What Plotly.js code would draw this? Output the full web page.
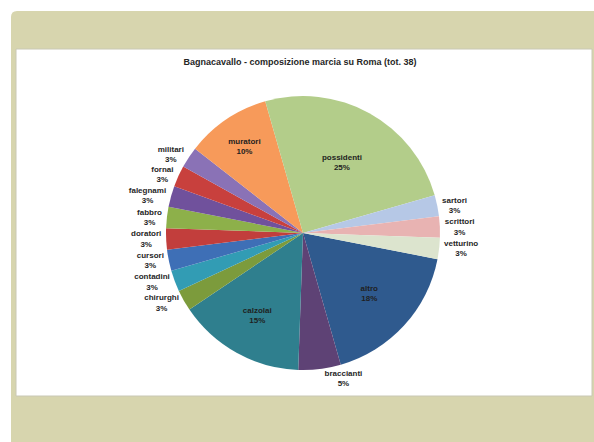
<!DOCTYPE html>
<html>
<head>
<meta charset="utf-8">
<script src="https://cdn.plot.ly/plotly-3.0.1.min.js"></script>
<style>html,body{margin:0;padding:0;background:#fff;}#chart{width:594px;height:442px;}</style>
</head>
<body>
<div id="chart"></div>
<script>
var chartTitle = 'Bagnacavallo - composizione marcia su Roma (tot. 38)';
var categories = ['altro','braccianti','calzolai','chirurghi','contadini','cursori','doratori','fabbro','falegnami','fornai','militari','muratori','possidenti','sartori','scrittori','vetturino'];
var values = [7, 2, 6, 1, 1, 1, 1, 1, 1, 1, 1, 4, 10, 1, 1, 1];
var sliceColors = ['#2F5A8E','#5E4275','#2F7F8E','#7C9B3C','#329CB4','#3E6FB6','#C23E3C','#8DB04A','#70519C','#C8403D','#8A72B6','#F79A5A','#B3CD8A','#B6C8E6','#E8B3B2','#DCE4CE'];

var total = values.reduce(function(a,b){return a+b;},0);
var texts = categories.map(function(c,i){ return c + '<br>' + Math.round(values[i]/total*100) + '%'; });
var positions = values.map(function(v){ return v >= 4 ? 'inside' : 'outside'; });

var W = 594, H = 442;
function px(x){return x/W;}
function py(y){return 1 - y/H;}

var trace = {
  type: 'pie',
  labels: categories,
  values: values,
  text: texts,
  textinfo: 'text',
  textposition: positions,
  insidetextorientation: 'horizontal',
  sort: false,
  direction: 'clockwise',
  rotation: 101,
  marker: {colors: sliceColors, line: {width: 0}},
  textfont: {family: 'Liberation Sans, Arial, sans-serif', size: 8, color: '#262626', weight: 'bold'},
  insidetextfont: {family: 'Liberation Sans, Arial, sans-serif', size: 8, color: '#1f1f1f', weight: 'bold'},
  outsidetextfont: {family: 'Liberation Sans, Arial, sans-serif', size: 8, color: '#262626', weight: 'bold'},
  domain: {x: [px(166), px(440)], y: [py(370), py(96)]},
  showlegend: false,
  hoverinfo: 'label+percent'
};

var r = 6;
var bx0 = px(11), bx1 = px(594), by0 = py(11), by1 = py(442);
var beigePath = 'M ' + bx0 + ',' + by1 + ' L ' + bx0 + ',' + py(11 + r) +
  ' Q ' + bx0 + ',' + by0 + ' ' + px(11 + r) + ',' + by0 +
  ' L ' + bx1 + ',' + by0 + ' L ' + bx1 + ',' + by1 + ' Z';

var layout = {
  width: W, height: H,
  margin: {l: 0, r: 0, t: 0, b: 0},
  paper_bgcolor: '#ffffff',
  title: {
    text: '<b>' + chartTitle + '</b>',
    font: {family: 'Liberation Sans, Arial, sans-serif', size: 9, color: '#262626'},
    x: 0.505, xanchor: 'center', xref: 'paper',
    y: py(62), yanchor: 'middle', yref: 'container'
  },
  shapes: [
    {type: 'path', xref: 'paper', yref: 'paper', path: beigePath, fillcolor: '#D7D5AE', line: {width: 0}, layer: 'below'},
    {type: 'rect', xref: 'paper', yref: 'paper', x0: px(16), x1: px(592), y0: py(396), y1: py(49), fillcolor: '#ffffff', line: {color: '#c9c8b4', width: 1}, layer: 'below'}
  ]
};

Plotly.newPlot('chart', [trace], layout, {staticPlot: true, displayModeBar: false});
</script>
</body>
</html>
